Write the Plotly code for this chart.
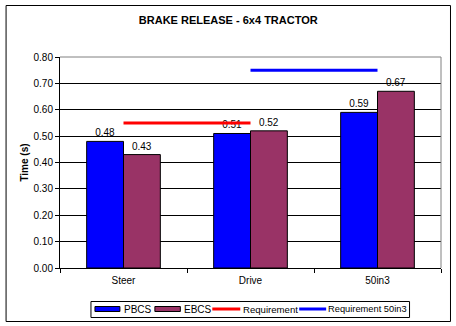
import plotly.graph_objects as go

categories = ["Steer", "Drive", "50in3"]
pbcs = [0.48, 0.51, 0.59]
ebcs = [0.43, 0.52, 0.67]
requirement = [0.55, 0.55, None]
requirement_50 = [None, 0.75, 0.75]
y_ticks = [0.0, 0.1, 0.2, 0.3, 0.4, 0.5, 0.6, 0.7, 0.8]
series_names = ["PBCS", "EBCS", "Requirement", "Requirement 50in3"]
series_colors = ["#0000FF", "#993366", "#FF0000", "#0000FF"]

FONT = "Liberation Sans, Arial, sans-serif"

fig = go.Figure()
for name, vals, col in [(series_names[0], pbcs, series_colors[0]), (series_names[1], ebcs, series_colors[1])]:
    fig.add_trace(go.Bar(
        x=categories, y=vals, name=name,
        marker=dict(color=col, line=dict(color="black", width=1)),
        text=[f"{v:.2f}" for v in vals], textposition="outside",
        textfont=dict(size=10, color="black", family=FONT),
        constraintext="none", cliponaxis=False,
    ))
fig.add_trace(go.Scatter(
    x=categories, y=requirement, name=series_names[2], mode="lines",
    line=dict(color=series_colors[2], width=3), connectgaps=False,
))
fig.add_trace(go.Scatter(
    x=categories, y=requirement_50, name=series_names[3], mode="lines",
    line=dict(color=series_colors[3], width=3), connectgaps=False,
))

L, R, T, B = 59.5, 15, 57, 58
W, H = 456, 326
pw, ph = W - L - R, H - T - B

def px(xp):
    return (xp - L) / pw

def py(yp):
    return (H - B - yp) / ph

fig.update_layout(
    width=W, height=H,
    margin=dict(l=L, r=R, t=T, b=B, pad=0, autoexpand=False),
    paper_bgcolor="white", plot_bgcolor="white",
    font=dict(family=FONT, size=10, color="black"),
    title=dict(text="<b>BRAKE RELEASE - 6x4 TRACTOR</b>", x=px(228), xref="paper",
               xanchor="center", y=1 - 20 / H, yanchor="middle",
               font=dict(size=11, family=FONT, color="black")),
    barmode="group", bargap=0.42, bargroupgap=0,
    showlegend=False,
    xaxis=dict(showline=True, linecolor="black", linewidth=1, ticks="outside",
               tickson="boundaries", ticklen=4, tickcolor="black", showgrid=False,
               tickfont=dict(size=10), ticklabelstandoff=3),
    yaxis=dict(range=[0, 0.8], tickvals=y_ticks, tickformat=".2f", showline=True,
               linecolor="black", linewidth=1, ticks="outside", ticklen=4,
               tickcolor="black", showgrid=True, gridcolor="black", gridwidth=1,
               zeroline=False,
               title=dict(text="<b>Time (s)</b>", font=dict(size=10), standoff=3),
               tickfont=dict(size=10)),
)

# gray plot-area border (top and right)
fig.add_shape(type="line", xref="paper", yref="paper", x0=0, x1=1, y0=1, y1=1,
              line=dict(color="#808080", width=1), layer="above")
fig.add_shape(type="line", xref="paper", yref="paper", x0=1, x1=1, y0=0, y1=1,
              line=dict(color="#808080", width=1), layer="above")
# outer chart border
fig.add_shape(type="rect", xref="paper", yref="paper",
              x0=px(5.5), x1=px(450.5), y0=py(321.5), y1=py(5.5),
              line=dict(color="black", width=1), fillcolor="rgba(0,0,0,0)", layer="above")

# legend (drawn manually to match the original's wide swatches)
fig.add_shape(type="rect", xref="paper", yref="paper",
              x0=px(90.5), x1=px(409.5), y0=py(317.5), y1=py(301.5),
              line=dict(color="black", width=1), fillcolor="white", layer="above")
legend_items = [
    ("bar", 94.5, 119.5, 121.5, 10),
    ("bar", 154.5, 180, 182, 10),
    ("line", 212, 240, 240.5, 9.6),
    ("line", 299, 326, 326, 9.3),
]
ly = 309
for (kind, x0, x1, tx, fs), name, col in zip(legend_items, series_names, series_colors):
    if kind == "bar":
        fig.add_shape(type="rect", xref="paper", yref="paper",
                      x0=px(x0), x1=px(x1), y0=py(ly + 2.5), y1=py(ly - 2.5),
                      line=dict(color="black", width=1), fillcolor=col, layer="above")
    else:
        fig.add_shape(type="line", xref="paper", yref="paper",
                      x0=px(x0), x1=px(x1), y0=py(ly), y1=py(ly),
                      line=dict(color=col, width=3), layer="above")
    fig.add_annotation(text=name, xref="paper", yref="paper", x=px(tx), y=py(ly),
                       xanchor="left", yanchor="middle", showarrow=False,
                       font=dict(size=fs, family=FONT, color="black"))

fig.write_html("out.html")
